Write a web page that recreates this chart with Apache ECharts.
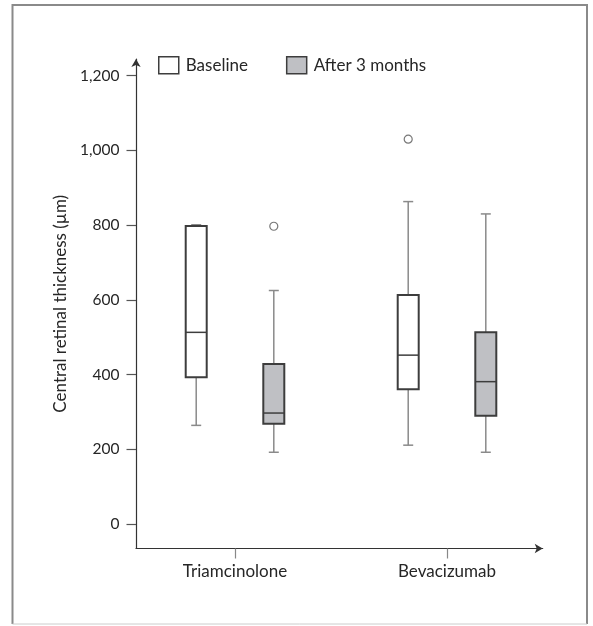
<!DOCTYPE html>
<html><head><meta charset="utf-8">
<script src="https://cdn.jsdelivr.net/npm/echarts@6/dist/echarts.min.js"></script>
<style>html,body{margin:0;padding:0;background:#fff}#c{width:593px;height:626px}</style>
</head><body><div id="c"></div>
<script>
// ---- data ----
const categories = ['Triamcinolone', 'Bevacizumab'];
const seriesNames = ['Baseline', 'After 3 months'];
// [min, Q1, median, Q3, max] per category
const baselineBoxes = [[264, 393, 513, 798, 801], [211, 361, 452, 613, 863]];
const afterBoxes = [[192, 268, 297, 428, 625], [192, 290, 381, 513, 830]];
// [category index, value]
const baselineOutliers = [[1, 1030]];
const afterOutliers = [[0, 797]];
const yTickValues = [0, 200, 400, 600, 800, 1000, 1200];
const yAxisTitle = 'Central retinal thickness (µm)';

// ---- layout / style ----
const FONT = 'Lato';
const TEXT = '#262626';
const DODGE = 0.183;
const BOX_STROKE = '#3d3d3d';
const WHISKER = '#8a8a8a';
const fills = ['#ffffff', '#bfc0c4'];

function boxData(arr) {
  return arr.map((b, i) => [i + 1].concat(b));
}
function outlierData(arr, dodge) {
  return arr.map(([g, v]) => [g + 1 + dodge, v]);
}
function makeRender(dodge, fill) {
  return function (params, api) {
    const x = api.value(0) + dodge;
    const pMin = api.coord([x, api.value(1)]);
    const pQ1 = api.coord([x, api.value(2)]);
    const pMed = api.coord([x, api.value(3)]);
    const pQ3 = api.coord([x, api.value(4)]);
    const pMax = api.coord([x, api.value(5)]);
    const cx = pMin[0], hw = 10.5, cw = 5;
    const ws = { stroke: WHISKER, lineWidth: 1.5 };
    return {
      type: 'group',
      children: [
        { type: 'line', shape: { x1: cx, y1: pMin[1], x2: cx, y2: pQ1[1] }, style: ws },
        { type: 'line', shape: { x1: cx, y1: pQ3[1], x2: cx, y2: pMax[1] }, style: ws },
        { type: 'line', shape: { x1: cx - cw, y1: pMin[1], x2: cx + cw, y2: pMin[1] }, style: ws },
        { type: 'line', shape: { x1: cx - cw, y1: pMax[1], x2: cx + cw, y2: pMax[1] }, style: ws },
        { type: 'rect', shape: { x: cx - hw, y: pQ3[1], width: 2 * hw, height: pQ1[1] - pQ3[1] },
          style: { fill: fill, stroke: BOX_STROKE, lineWidth: 2 } },
        { type: 'line', shape: { x1: cx - hw, y1: pMed[1], x2: cx + hw, y2: pMed[1] },
          style: { stroke: BOX_STROKE, lineWidth: 1.5 } }
      ]
    };
  };
}

const chart = echarts.init(document.getElementById('c'), null, { renderer: 'canvas' });
chart.setOption({
  animation: false,
  backgroundColor: '#fff',
  textStyle: { fontFamily: FONT },
  grid: { left: 136, right: 50.3, top: 59, bottom: 77.5, containLabel: false },
  legend: {
    left: 153, top: 51,
    itemWidth: 20, itemHeight: 17, itemGap: 38,
    textStyle: { fontFamily: FONT, fontSize: 17, color: TEXT, padding: [0, 0, 0, 2] },
    data: [
      { name: seriesNames[0], icon: 'rect', itemStyle: { color: fills[0], borderColor: BOX_STROKE, borderWidth: 1.5 } },
      { name: seriesNames[1], icon: 'rect', itemStyle: { color: fills[1], borderColor: BOX_STROKE, borderWidth: 1.5 } }
    ]
  },
  xAxis: {
    type: 'value', min: 0.533, max: 2.4514,
    axisLine: { show: true, onZero: false, symbol: ['none', 'arrow'], symbolSize: [7, 8],
      lineStyle: { color: '#333', width: 1.2 } },
    axisTick: { show: true, customValues: [1, 2], length: 10, lineStyle: { color: '#888', width: 1.2 } },
    axisLabel: { customValues: [1, 2], margin: 15, fontSize: 17, color: TEXT, fontFamily: FONT,
      formatter: v => categories[Math.round(v) - 1] },
    splitLine: { show: false }
  },
  yAxis: {
    type: 'value', min: -65.6, max: 1244.7,
    name: yAxisTitle, nameLocation: 'middle', nameGap: 65,
    nameTextStyle: { fontFamily: FONT, fontSize: 17, color: TEXT },
    axisLine: { show: true, onZero: false, symbol: ['none', 'arrow'], symbolSize: [7, 8],
      lineStyle: { color: '#333', width: 1.2 } },
    axisTick: { show: true, customValues: yTickValues, length: 9.5, lineStyle: { color: '#555', width: 1.2 } },
    axisLabel: { customValues: yTickValues, margin: 16.5, fontSize: 15.5, color: TEXT, fontFamily: FONT,
      formatter: v => v.toLocaleString('en-US') },
    splitLine: { show: false }
  },
  series: [
    { type: 'custom', name: seriesNames[0], renderItem: makeRender(-DODGE, fills[0]),
      encode: { x: 0, y: [1, 2, 3, 4, 5] }, data: boxData(baselineBoxes), clip: false, z: 3 },
    { type: 'custom', name: seriesNames[1], renderItem: makeRender(DODGE, fills[1]),
      encode: { x: 0, y: [1, 2, 3, 4, 5] }, data: boxData(afterBoxes), clip: false, z: 3 },
    { type: 'scatter', name: 'outBaseline', symbol: 'circle', symbolSize: 8,
      itemStyle: { color: '#fff', borderColor: '#555', borderWidth: 1.2 },
      data: outlierData(baselineOutliers, -DODGE), z: 4 },
    { type: 'scatter', name: 'outAfter', symbol: 'circle', symbolSize: 8,
      itemStyle: { color: '#fff', borderColor: '#555', borderWidth: 1.2 },
      data: outlierData(afterOutliers, DODGE), z: 4 }
  ],
  graphic: [
    { type: 'line', shape: { x1: 12.5, y1: 5, x2: 587, y2: 5 }, style: { stroke: '#8a8a8a', lineWidth: 2 } },
    { type: 'line', shape: { x1: 12.5, y1: 4, x2: 12.5, y2: 624 }, style: { stroke: '#8a8a8a', lineWidth: 2 } },
    { type: 'line', shape: { x1: 587, y1: 4, x2: 587, y2: 624 }, style: { stroke: '#8a8a8a', lineWidth: 2 } },
    { type: 'line', shape: { x1: 12.5, y1: 624, x2: 587, y2: 624 }, style: { stroke: '#cccccc', lineWidth: 1 } }
  ]
});
</script>
</body></html>
